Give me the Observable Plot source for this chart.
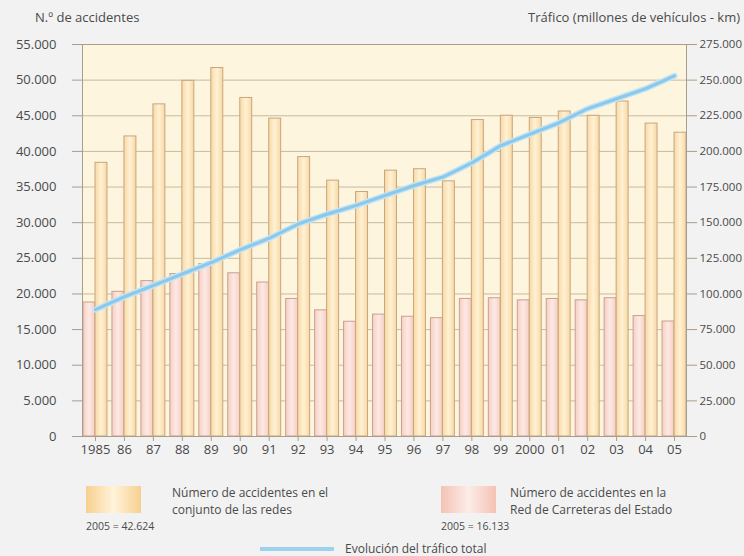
<!DOCTYPE html>
<html>
<head>
<meta charset="utf-8">
<script src="https://cdn.jsdelivr.net/npm/d3@7"></script>
<script src="https://cdn.jsdelivr.net/npm/@observablehq/plot@0.6"></script>
<style>
  html, body { margin: 0; padding: 0; background: #f2f2f2; overflow: hidden; }
  #wrap { position: relative; width: 744px; height: 556px; font-family: "Open Sans", sans-serif; color: #4a4a4a; }
  #chart { position: absolute; left: 0; top: 0; }
  .lbl { position: absolute; font-size: 13px; white-space: nowrap; line-height: 15px; }
  .lg { font-size: 12px; line-height: 15px; }
  .sw { position: absolute; }
</style>
</head>
<body>
<div id="wrap">
  <div id="chart"></div>
  <div class="lbl" style="left:35px; top:10px;">N.º de accidentes</div>
  <div class="lbl" style="right:4px; top:10px;">Tráfico (millones de vehículos - km)</div>

  <div class="sw" style="left:86px; top:486px; width:55px; height:27px; background:linear-gradient(90deg,#f7d08f,#fff3da 50%,#f7d08f);"></div>
  <div class="lbl lg" style="left:172px; top:485px;">Número de accidentes en el</div>
  <div class="lbl lg" style="left:172px; top:502px;">conjunto de las redes</div>
  <div class="lbl" style="left:86px; top:520px; font-size:10.5px; line-height:12px;">2005 = 42.624</div>

  <div class="sw" style="left:441px; top:486px; width:55px; height:27px; background:linear-gradient(90deg,#f4c2b4,#fdece7 50%,#f4c2b4);"></div>
  <div class="lbl lg" style="left:510px; top:485px;">Número de accidentes en la</div>
  <div class="lbl lg" style="left:510px; top:502px;">Red de Carreteras del Estado</div>
  <div class="lbl" style="left:441px; top:520px; font-size:10.5px; line-height:12px;">2005 = 16.133</div>

  <div class="sw" style="left:260px; top:547px; width:74px; height:4px; background:#9dd2ef;"></div>
  <div class="lbl" style="left:345px; top:541px; font-size:12px;">Evolución del tráfico total</div>
</div>
<script>
const yearLabels = ["1985","86","87","88","89","90","91","92","93","94","95","96","97","98","99","2000","01","02","03","04","05"];
const totalAccidents = [38400, 42100, 46600, 49900, 51700, 47500, 44600, 39200, 35900, 34300, 37300, 37500, 35800, 44400, 45000, 44700, 45600, 45000, 47000, 43900, 42624];
const stateAccidents = [18800, 20300, 21800, 22800, 24200, 22900, 21600, 19300, 17700, 16100, 17100, 16800, 16600, 19300, 19400, 19100, 19300, 19100, 19400, 16900, 16133];
const traffic = [89, 98, 106, 114, 122, 131, 139, 149, 156, 162, 169, 176, 182, 192, 204, 212, 220, 230, 237, 244, 253];
const leftTicks = [0, 5000, 10000, 15000, 20000, 25000, 30000, 35000, 40000, 45000, 50000, 55000];
const rightTicks = [0, 25, 50, 75, 100, 125, 150, 175, 200, 225, 250, 275];

const ratio = 55000 / 275;
const rows = yearLabels.map((y, i) => ({year: y, total: totalAccidents[i], state: stateAccidents[i], traffic: traffic[i]}));
const fmt = d3.formatLocale({decimal: ",", thousands: ".", grouping: [3], currency: ["", "€"]}).format(",d");

const gridColor = "#c9bb9f";
const axisColor = "#a89e8c";

const plot = Plot.plot({
  width: 744,
  height: 470,
  marginLeft: 82,
  marginRight: 58,
  marginTop: 44,
  marginBottom: 34,
  style: {background: "transparent", fontFamily: "Open Sans, sans-serif", fontSize: "13px", color: "#4a4a4a", overflow: "visible"},
  x: {type: "band", domain: yearLabels, range: [80.5, 688.5], padding: 0, round: false, label: null},
  y: {domain: [0, 55000], label: null},
  marks: [
    Plot.frame({fill: "#fdf5de", stroke: null}),
    Plot.gridY(leftTicks, {stroke: gridColor, strokeOpacity: 1}),
    Plot.barY(rows, {x: "year", y: "state", fill: "url(#gPink)", stroke: "#c9a08e", strokeWidth: 1, insetLeft: 2.5, insetRight: 14.5}),
    Plot.barY(rows, {x: "year", y: "total", fill: "url(#gOrange)", stroke: "#c9a57e", strokeWidth: 1, insetLeft: 14.5, insetRight: 2.5}),
    Plot.line(rows, {x: "year", y: d => d.traffic * ratio, stroke: "#c4e5f6", strokeWidth: 6}),
    Plot.line(rows, {x: "year", y: d => d.traffic * ratio, stroke: "#8cc8ea", strokeWidth: 3.2}),
    Plot.axisY({anchor: "left", ticks: leftTicks, tickFormat: fmt, tickSize: 10, tickPadding: 16, stroke: axisColor, fill: "#4a4a4a", label: null}),
    Plot.axisY({anchor: "right", ticks: rightTicks.map(t => t * ratio), tickFormat: d => fmt(Math.round(d / ratio) * 1000), tickSize: 10, tickPadding: 3, stroke: axisColor, fill: "#4a4a4a", fontSize: 11.5, label: null}),
    Plot.axisX({ticks: yearLabels, tickSize: 5, tickPadding: 3, stroke: axisColor, fill: "#4a4a4a", label: null}),
    Plot.ruleY([0], {stroke: axisColor, insetLeft: -10, insetRight: -10}),
    Plot.frame({stroke: axisColor, fill: null})
  ]
});

const defs = d3.select(plot).insert("defs", ":first-child");
function grad(id, edge, mid) {
  const g = defs.append("linearGradient").attr("id", id).attr("x1", "0").attr("x2", "1").attr("y1", "0").attr("y2", "0");
  g.append("stop").attr("offset", "0%").attr("stop-color", edge);
  g.append("stop").attr("offset", "50%").attr("stop-color", mid);
  g.append("stop").attr("offset", "100%").attr("stop-color", edge);
}
grad("gOrange", "#f8d9a4", "#fff1d4");
grad("gPink", "#f6cfc4", "#fde9e4");

document.getElementById("chart").appendChild(plot);
</script>
</body>
</html>
